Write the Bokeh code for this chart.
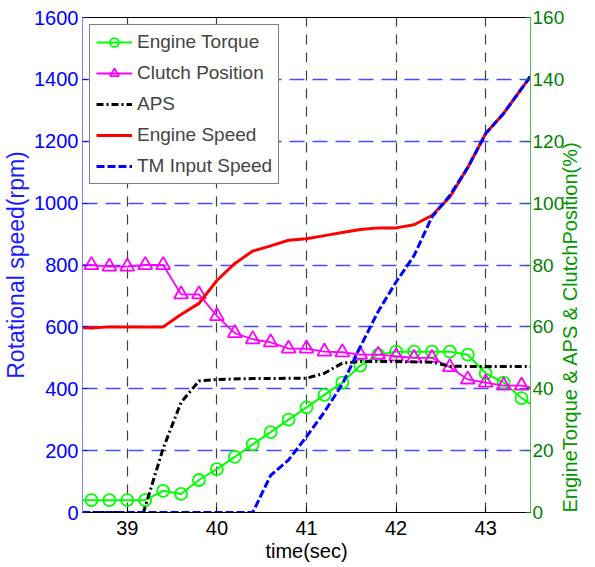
import math
from bokeh.plotting import figure
from bokeh.models import LinearAxis, Range1d, FixedTicker
from bokeh.embed import file_html
from bokeh.resources import INLINE

# ---------------- data ----------------
x_ticks = [39, 40, 41, 42, 43]
rpm_ticks = [0, 200, 400, 600, 800, 1000, 1200, 1400, 1600]
pct_ticks = [0, 20, 40, 60, 80, 100, 120, 140, 160]

# Engine torque (%) - line incl. edges, markers every 0.2 s
torque_t = [38.5, 38.6, 38.8, 39.0, 39.2, 39.4, 39.6, 39.8, 40.0, 40.2, 40.4, 40.6, 40.8,
            41.0, 41.2, 41.4, 41.6, 41.8, 42.0, 42.2, 42.4, 42.6, 42.8, 43.0, 43.2, 43.4, 43.5]
torque_v = [4, 4, 4, 4, 4, 7, 6, 10.5, 14, 18, 22, 26, 30,
            34, 38, 42, 47.5, 51, 52, 52, 52, 52, 51, 45, 42, 37, 35]

# Clutch position (%)
clutch_t = [38.5, 38.6, 38.8, 39.0, 39.2, 39.4, 39.6, 39.8, 40.0, 40.2, 40.4, 40.6, 40.8,
            41.0, 41.2, 41.4, 41.6, 41.8, 42.0, 42.2, 42.4, 42.6, 42.8, 43.0, 43.2, 43.4, 43.5]
clutch_v = [80, 80, 79.5, 79.5, 80, 80, 70.5, 70.5, 63.5, 58, 56, 55, 53,
            53, 52, 51.8, 51, 51, 50.5, 50, 50, 47, 43, 42, 41, 41, 40.5]

# APS (%)
aps_t = [38.5, 39.18, 39.4, 39.6, 39.8, 40.0, 40.4, 41.0, 41.2, 41.4, 41.6, 42.0, 42.4, 42.6, 42.8, 43.5]
aps_v = [0, 0, 20.7, 35.6, 42.5, 43, 43.3, 43.4, 45, 48.3, 48.8, 48.8, 48.6, 47.3, 47.2, 47.2]

# Engine speed (rpm)
eng_t = [38.5, 38.6, 38.8, 39.0, 39.2, 39.4, 39.6, 39.8, 40.0, 40.2, 40.4, 40.6, 40.8,
         41.0, 41.2, 41.4, 41.6, 41.8, 42.0, 42.2, 42.4, 42.6, 42.8, 43.0, 43.2, 43.4, 43.5]
eng_v = [597, 596, 600, 600, 600, 600, 640, 676, 750, 805, 845, 862, 880,
         885, 895, 905, 915, 920, 920, 930, 960, 1020, 1115, 1225, 1290, 1370, 1410]

# TM input speed (rpm)
tm_t = [38.5, 40.4, 40.6, 40.8, 41.0, 41.2, 41.4, 41.6, 41.8, 42.0, 42.2, 42.4, 42.6, 42.8, 43.0, 43.2, 43.4, 43.5]
tm_v = [0, 0, 120, 170, 245, 325, 415, 535, 650, 745, 830, 955, 1025, 1115, 1225, 1290, 1370, 1410]

FONT = "Liberation Sans"

p = figure(width=595, height=567, x_range=Range1d(38.5, 43.5), y_range=Range1d(0, 1600),
           output_backend="svg", toolbar_location=None,
           min_border_left=79, min_border_right=55, min_border_top=17, min_border_bottom=55)
p.extra_y_ranges = {"pct": Range1d(0, 160)}
p.outline_line_color = "black"
p.background_fill_color = "white"
p.border_fill_color = "white"

# grids
p.xgrid.ticker = FixedTicker(ticks=x_ticks)
p.xgrid.grid_line_color = "#404040"
p.xgrid.grid_line_dash = "10 8"
p.xgrid.grid_line_width = 1.2
p.ygrid.ticker = FixedTicker(ticks=rpm_ticks)
p.ygrid.grid_line_color = "#4a4aff"
p.ygrid.grid_line_dash = "15 8"
p.ygrid.grid_line_width = 1.3

# x axis
xa = p.xaxis[0]
xa.ticker = FixedTicker(ticks=x_ticks)
xa.axis_label = "time(sec)"
xa.axis_line_color = "black"
xa.major_tick_line_color = "black"
xa.major_tick_in = 5
xa.major_tick_out = 0
xa.minor_tick_line_color = None
xa.major_label_text_font = FONT
xa.major_label_text_font_size = "20px"
xa.major_label_text_color = "black"
xa.axis_label_text_font = FONT
xa.axis_label_text_font_size = "20px"
xa.axis_label_text_font_style = "normal"
xa.axis_label_text_color = "black"
xa.axis_label_standoff = 2
xa.major_label_standoff = 8

# left axis
ya = p.yaxis[0]
ya.ticker = FixedTicker(ticks=rpm_ticks)
ya.axis_label = "Rotational speed(rpm)"
ya.axis_line_color = "#7f7fff"
ya.major_tick_line_color = "#0000ff"
ya.major_tick_in = 5
ya.major_tick_out = 0
ya.minor_tick_line_color = None
ya.major_label_text_font = FONT
ya.major_label_text_font_size = "20px"
ya.major_label_text_color = "#0000ff"
ya.major_label_standoff = 4
ya.axis_label_text_font = FONT
ya.axis_label_text_font_size = "23px"
ya.axis_label_text_font_style = "normal"
ya.axis_label_text_color = "#1a1aff"
ya.axis_label_standoff = 2

# right axis
ra = LinearAxis(y_range_name="pct", ticker=FixedTicker(ticks=pct_ticks))
ra.axis_label = "EngineTorque & APS & ClutchPosition(%)"
ra.axis_line_color = "#5cb85c"
ra.major_tick_line_color = "#008000"
ra.major_tick_in = 5
ra.major_tick_out = 0
ra.minor_tick_line_color = None
ra.major_label_text_font = FONT
ra.major_label_text_font_size = "19px"
ra.major_label_text_color = "#007f00"
ra.major_label_standoff = 2
ra.axis_label_text_font = FONT
ra.axis_label_text_font_size = "20px"
ra.axis_label_text_font_style = "normal"
ra.axis_label_text_color = "#009900"
ra.axis_label_standoff = 3
try:
    ra.axis_label_orientation = math.pi / 2
    ra.axis_label_align = "start"
except Exception:
    pass
p.add_layout(ra, "right")

# series
p.line(torque_t, torque_v, y_range_name="pct", line_color="#00ff00", line_width=2,
       legend_label="Engine Torque")
p.scatter(torque_t[1:-1], torque_v[1:-1], y_range_name="pct", marker="circle", size=12,
          line_color="#00ff00", line_width=1.8, fill_alpha=0, legend_label="Engine Torque")

p.line(clutch_t, clutch_v, y_range_name="pct", line_color="#ff00ff", line_width=1.8,
       legend_label="Clutch Position")
p.scatter(clutch_t[1:-1], clutch_v[1:-1], y_range_name="pct", marker="triangle", size=14,
          line_color="#ff00ff", line_width=1.8, fill_alpha=0, legend_label="Clutch Position")

p.line(aps_t, aps_v, y_range_name="pct", line_color="black", line_width=3,
       line_dash="7 3 2 3", legend_label="APS")

p.line(eng_t, eng_v, line_color="#ff0000", line_width=3, legend_label="Engine Speed")

p.line(tm_t, tm_v, line_color="#0000ff", line_width=3, line_dash="8 3",
       legend_label="TM Input Speed")

lg = p.legend[0]
lg.location = "top_left"
lg.margin = 7
lg.padding = 6
lg.spacing = 9
lg.label_height = 22
lg.glyph_height = 22
lg.glyph_width = 36
lg.label_standoff = 5
lg.label_text_font = FONT
lg.label_text_font_size = "19px"
lg.border_line_color = "black"
lg.border_line_width = 1
lg.background_fill_alpha = 1

open("out.html", "w").write(file_html(p, INLINE))
